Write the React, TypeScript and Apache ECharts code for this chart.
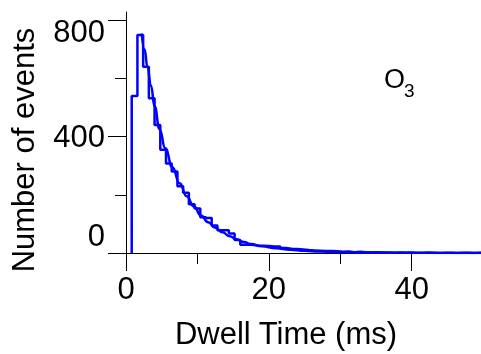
import React, { useEffect, useRef } from "react";
import * as echarts from "echarts";

const FONT = "'Liberation Sans', Arial, Helvetica, sans-serif";

// Histogram: bins of 0.8 ms starting at 0.8 ms, counts
const BIN_START = 0.8;
const BIN_WIDTH = 0.8;
const histCounts = [
  540, 750, 641, 532, 440, 355, 308, 280, 230, 207,
  168, 153, 123, 120, 95, 78, 78, 67, 45, 28,
  28, 26, 25, 24, 22, 22, 17, 15, 14, 12,
  10, 9, 8, 7, 7, 6, 4, 5, 3, 4,
  3, 2, 3, 2, 2, 1, 2, 1, 2, 1,
  1, 2, 1, 0, 1, 1, 0, 1, 1, 0,
  1, 0,
];

// Exponential fit curve
const fitTimes = [
  2.2, 2.6, 3.0, 3.5, 4.0, 4.7, 5.5, 6.5, 7.5, 8.5,
  9.5, 10.5, 11.5, 12.5, 13.5, 14.5, 15.5, 16.5, 17.5, 19.0,
  21.0, 23.0, 25.0, 27.0, 30.0, 34.0, 40.0, 49.7,
];
const fitValues = [
  755, 700, 640, 575, 505, 426, 360, 295, 240, 195,
  160, 129, 106, 87, 71, 58, 47, 38, 31, 23,
  16, 11, 7.5, 5, 3, 1.5, 0.6, 0.2,
];

const yMajorTicks = [0, 400, 800];
const yMinorTicks = [200, 600];
const xMajorTicks = [0, 20, 40];
const xMinorTicks = [10, 30];

const X_MAX = 49.7;
const Y_MAX = 829;

export default function App() {
  const ref = useRef<HTMLDivElement>(null);

  useEffect(() => {
    if (!ref.current) return;
    const chart = echarts.init(ref.current, null, { renderer: "svg" });

    const histData: number[][] = [[BIN_START, 0]];
    histCounts.forEach((c, i) => histData.push([BIN_START + i * BIN_WIDTH, c]));
    histData.push([
      BIN_START + histCounts.length * BIN_WIDTH,
      histCounts[histCounts.length - 1],
    ]);
    const fitData = fitTimes.map((t, i) => [t, fitValues[i]]);

    const labelStyle = { fontSize: 31, fontFamily: FONT, color: "#000" };

    chart.setOption({
      animation: false,
      textStyle: { fontFamily: FONT },
      grid: { left: 124, right: 0, top: 12, bottom: 96 },
      xAxis: [
        {
          type: "value",
          min: 0,
          max: X_MAX,
          position: "bottom",
          axisLine: { show: true, onZero: false, lineStyle: { color: "#000", width: 1 } },
          axisTick: {
            show: true,
            inside: false,
            length: 18,
            customValues: xMajorTicks,
            lineStyle: { color: "#000", width: 1 },
          },
          axisLabel: { customValues: xMajorTicks, margin: 20, ...labelStyle },
          splitLine: { show: false },
          name: "Dwell Time (ms)",
          nameLocation: "middle",
          nameGap: 65,
          nameTextStyle: { ...labelStyle, padding: [0, 35, 0, 0] },
        },
        {
          type: "value",
          min: 0,
          max: X_MAX,
          position: "bottom",
          axisLine: { show: false, onZero: false },
          axisTick: {
            show: true,
            inside: false,
            length: 11,
            customValues: xMinorTicks,
            lineStyle: { color: "#000", width: 1 },
          },
          axisLabel: { show: false },
          splitLine: { show: false },
        },
      ],
      yAxis: [
        {
          type: "value",
          min: 0,
          max: Y_MAX,
          position: "left",
          axisLine: { show: true, onZero: false, lineStyle: { color: "#000", width: 1 } },
          axisTick: {
            show: true,
            inside: false,
            length: 18,
            customValues: yMajorTicks,
            lineStyle: { color: "#000", width: 1 },
          },
          axisLabel: {
            customValues: yMajorTicks,
            margin: 21,
            ...labelStyle,
            formatter: (v: number) =>
              v === 800 ? `{t|${v}}` : v === 0 ? `{b|${v}}` : `{m|${v}}`,
            rich: {
              t: { ...labelStyle, padding: [22, 0, 0, 0] },
              b: { ...labelStyle, padding: [0, 0, 36, 0] },
              m: { ...labelStyle },
            },
          },
          splitLine: { show: false },
          name: "Number of events",
          nameLocation: "middle",
          nameGap: 87,
          nameTextStyle: { ...labelStyle, padding: [0, 35, 0, 0] },
        },
        {
          type: "value",
          min: 0,
          max: Y_MAX,
          position: "left",
          axisLine: { show: false, onZero: false },
          axisTick: {
            show: true,
            inside: false,
            length: 11,
            customValues: yMinorTicks,
            lineStyle: { color: "#000", width: 1 },
          },
          axisLabel: { show: false },
          splitLine: { show: false },
        },
      ],
      graphic: [
        {
          type: "text",
          left: 384,
          top: 65,
          style: { text: "O", fontSize: 27, fontFamily: FONT, fill: "#000" },
        },
        {
          type: "text",
          left: 404,
          top: 80.5,
          style: { text: "3", fontSize: 19, fontFamily: FONT, fill: "#000" },
        },
      ],
      series: [
        {
          type: "line",
          xAxisIndex: 0,
          yAxisIndex: 0,
          data: histData,
          step: "end",
          symbol: "none",
          showSymbol: false,
          clip: true,
          lineStyle: { color: "#0000ff", width: 2.5 },
          itemStyle: { color: "#0000ff" },
        },
        {
          type: "line",
          xAxisIndex: 0,
          yAxisIndex: 0,
          data: fitData,
          smooth: true,
          smoothMonotone: "x",
          symbol: "none",
          showSymbol: false,
          clip: true,
          lineStyle: { color: "#0000ff", width: 2.5 },
          itemStyle: { color: "#0000ff" },
        },
      ],
    });

    return () => chart.dispose();
  }, []);

  return (
    <div
      ref={ref}
      style={{ position: "fixed", left: 0, top: 0, width: 481, height: 354 }}
    />
  );
}
